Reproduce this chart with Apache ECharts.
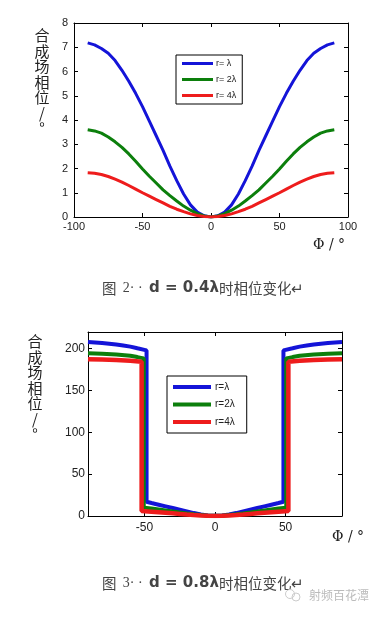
<!DOCTYPE html>
<html>
<head>
<meta charset="utf-8">
<script src="https://cdn.jsdelivr.net/npm/echarts@6/dist/echarts.min.js"></script>
<style>
html,body{margin:0;padding:0;background:#fff;}
#c{width:386px;height:617px;}
</style>
</head>
<body>
<div id="c"></div>
<script>
// ---------- Figure 2: d = 0.4λ ----------
var topX = [-90,-85,-80,-75,-70,-65,-60,-55,-50,-45,-40,-35,-30,-25,-20,-15,-10,-5,0,5,10,15,20,25,30,35,40,45,50,55,60,65,70,75,80,85,90];
var topBlue = [7.18,7.1,6.95,6.75,6.45,6.05,5.6,5.1,4.55,3.95,3.35,2.75,2.1,1.5,0.95,0.5,0.2,0.05,0,0.05,0.2,0.5,0.95,1.5,2.1,2.75,3.35,3.95,4.55,5.1,5.6,6.05,6.45,6.75,6.95,7.1,7.18];
var topGreen = [3.6,3.55,3.46,3.3,3.1,2.87,2.6,2.3,1.98,1.68,1.4,1.12,0.88,0.66,0.45,0.28,0.14,0.04,0,0.04,0.14,0.28,0.45,0.66,0.88,1.12,1.4,1.68,1.98,2.3,2.6,2.87,3.1,3.3,3.46,3.55,3.6];
var topRed = [1.82,1.8,1.75,1.67,1.56,1.44,1.3,1.15,1.0,0.86,0.72,0.58,0.44,0.32,0.22,0.13,0.06,0.02,0,0.02,0.06,0.13,0.22,0.32,0.44,0.58,0.72,0.86,1.0,1.15,1.3,1.44,1.56,1.67,1.75,1.8,1.82];
var topNames = ['r= λ','r= 2λ','r= 4λ'];

// ---------- Figure 3: d = 0.8λ ----------
var botBlueX = [-90,-85,-80,-75,-70,-65,-60,-55,-48.5,-48.5,-45,-40,-35,-30,-25,-20,-15,-10,-5,0,5,10,15,20,25,30,35,40,45,48.5,48.5,55,60,65,70,75,80,85,90];
var botBlue  = [208,207.5,206.8,206,205,203.8,202.5,200.5,198,17,15.5,13.5,11.5,9.5,7.5,5.5,3.5,1.8,0.6,0.3,0.6,1.8,3.5,5.5,7.5,9.5,11.5,13.5,15.5,17,198,200.5,202.5,203.8,205,206,206.8,207.5,208];
var botGreenX = [-90,-80,-70,-60,-55,-50.5,-50.5,-45,-40,-35,-30,-25,-20,-15,-10,-5,0,5,10,15,20,25,30,35,40,45,50.5,50.5,55,60,70,80,90];
var botGreen  = [194.5,194,193,191.5,190,188.5,10,9,7.8,6.6,5.4,4.2,3.1,2,1.1,0.4,0.2,0.4,1.1,2,3.1,4.2,5.4,6.6,7.8,9,10,188.5,190,191.5,193,194,194.5];
var botRedX = [-90,-80,-70,-60,-52,-52,-45,-40,-35,-30,-25,-20,-15,-10,-5,0,5,10,15,20,25,30,35,40,45,52,52,60,70,80,90];
var botRed  = [187.5,187,186.5,185.5,184.5,6,5.2,4.6,3.9,3.2,2.5,1.8,1.2,0.7,0.3,0.1,0.3,0.7,1.2,1.8,2.5,3.2,3.9,4.6,5.2,6,184.5,185.5,186.5,187,187.5];
var botNames = ['r=λ','r=2λ','r=4λ'];
var botXTicks = [-50,0,50];
var botYTicks = [0,50,100,150,200];

var colors = ['#1414d8','#0c7f0c','#ee1c1c'];
var yTitle = ['合','成','场','相','位','/','°'].join('\n');

function pairs(xs, ys){ return xs.map(function(x,i){ return [x, ys[i]]; }); }

var chart = echarts.init(document.getElementById('c'), null, {renderer:'canvas'});
var lab = {color:'#222', fontFamily:'Liberation Sans, Arial, sans-serif'};

function axisLineStyle(){ return {show:true, onZero:false, lineStyle:{color:'#000', width:1}}; }

var capRich = {
  a:{fontSize:14.5, fill:'#444', fontFamily:'Noto Sans CJK SC'},
  c:{fontSize:14, fill:'#444', fontFamily:'Liberation Serif', padding:[0,3,0,3]},
  b:{fontSize:15, fontWeight:'bold', fill:'#444', fontFamily:'DejaVu Sans'}
};

var option = {
  animation:false,
  backgroundColor:'#fff',
  grid:[
    {left:74, top:23, width:274, height:194, show:false},
    {left:88, top:332, width:254, height:184, show:false}
  ],
  xAxis:[
    {gridIndex:0, type:'value', min:-100, max:100, interval:50, position:'bottom',
     axisLine:axisLineStyle(), axisTick:{inside:true, length:4, lineStyle:{color:'#000'}},
     axisLabel:Object.assign({fontSize:11, margin:4}, lab), splitLine:{show:false}},
    {gridIndex:0, type:'value', min:-100, max:100, interval:50, position:'top',
     axisLine:axisLineStyle(), axisTick:{inside:true, length:4, lineStyle:{color:'#000'}},
     axisLabel:{show:false}, splitLine:{show:false}},
    {gridIndex:1, type:'value', min:-90, max:90, position:'bottom',
     axisLine:axisLineStyle(), axisTick:{inside:true, length:4, customValues:botXTicks, lineStyle:{color:'#000'}},
     axisLabel:Object.assign({fontSize:12, margin:6, customValues:botXTicks}, lab), splitLine:{show:false}},
    {gridIndex:1, type:'value', min:-90, max:90, position:'top',
     axisLine:axisLineStyle(), axisTick:{inside:true, length:4, customValues:botXTicks, lineStyle:{color:'#000'}},
     axisLabel:{show:false}, splitLine:{show:false}}
  ],
  yAxis:[
    {gridIndex:0, type:'value', min:0, max:8, interval:1, position:'left',
     axisLine:axisLineStyle(), axisTick:{inside:true, length:4, lineStyle:{color:'#000'}},
     axisLabel:Object.assign({fontSize:11, margin:6}, lab), splitLine:{show:false}},
    {gridIndex:0, type:'value', min:0, max:8, interval:1, position:'right',
     axisLine:axisLineStyle(), axisTick:{inside:true, length:4, lineStyle:{color:'#000'}},
     axisLabel:{show:false}, splitLine:{show:false}},
    {gridIndex:1, type:'value', min:0, max:220, position:'left',
     axisLine:axisLineStyle(), axisTick:{inside:true, length:4, customValues:botYTicks, lineStyle:{color:'#000'}},
     axisLabel:Object.assign({fontSize:12, margin:3, customValues:botYTicks}, lab), splitLine:{show:false}},
    {gridIndex:1, type:'value', min:0, max:220, position:'right',
     axisLine:axisLineStyle(), axisTick:{inside:true, length:4, customValues:botYTicks, lineStyle:{color:'#000'}},
     axisLabel:{show:false}, splitLine:{show:false}}
  ],
  legend:[
    {data:topNames, orient:'vertical', left:176, top:55, icon:'rect', itemWidth:31, itemHeight:3, itemGap:5,
     padding:[3,6,3,6], borderColor:'#000', borderWidth:1, backgroundColor:'#fff', selectedMode:false,
     textStyle:{fontSize:9, lineHeight:11, color:'#222', fontFamily:'Liberation Sans, Arial, sans-serif', padding:[0,0,0,-2]}},
    {data:botNames, orient:'vertical', left:167, top:376, icon:'rect', itemWidth:38, itemHeight:4, itemGap:5.5,
     padding:[5,12,5,6], borderColor:'#000', borderWidth:1, backgroundColor:'#fff', selectedMode:false,
     textStyle:{fontSize:10, lineHeight:12, color:'#222', fontFamily:'Liberation Sans, Arial, sans-serif', padding:[0,0,0,-1]}}
  ],
  series:[
    {name:topNames[0], type:'line', xAxisIndex:0, yAxisIndex:0, data:pairs(topX, topBlue), showSymbol:false, color:colors[0], lineStyle:{width:3, color:colors[0]}},
    {name:topNames[1], type:'line', xAxisIndex:0, yAxisIndex:0, data:pairs(topX, topGreen), showSymbol:false, color:colors[1], lineStyle:{width:3, color:colors[1]}},
    {name:topNames[2], type:'line', xAxisIndex:0, yAxisIndex:0, data:pairs(topX, topRed), showSymbol:false, color:colors[2], lineStyle:{width:3, color:colors[2]}},
    {name:botNames[0], type:'line', xAxisIndex:2, yAxisIndex:2, data:pairs(botBlueX, botBlue), showSymbol:false, color:colors[0], lineStyle:{width:4, color:colors[0]}},
    {name:botNames[1], type:'line', xAxisIndex:2, yAxisIndex:2, data:pairs(botGreenX, botGreen), showSymbol:false, color:colors[1], lineStyle:{width:4, color:colors[1]}},
    {name:botNames[2], type:'line', xAxisIndex:2, yAxisIndex:2, data:pairs(botRedX, botRed), showSymbol:false, color:colors[2], lineStyle:{width:4.5, color:colors[2]}}
  ],
  graphic:[
    {type:'text', x:42, y:28, style:{text:yTitle, fontSize:15, lineHeight:15.5, align:'center', verticalAlign:'top', fill:'#222', fontFamily:'Noto Sans CJK SC'}},
    {type:'text', x:35, y:334, style:{text:yTitle, fontSize:15, lineHeight:15.5, align:'center', verticalAlign:'top', fill:'#222', fontFamily:'Noto Sans CJK SC'}},
    {type:'text', x:313, y:238, style:{text:'Φ / °', fontSize:14, fill:'#222', fontFamily:'DejaVu Serif'}},
    {type:'text', x:332, y:530, style:{text:'Φ / °', fontSize:14, fill:'#222', fontFamily:'DejaVu Serif'}},
    {type:'text', x:102, y:288, style:{text:'{a|图 }{c|2· · }{b|d = 0.4λ}{a|时相位变化↵}', verticalAlign:'middle', rich:capRich}},
    {type:'text', x:102, y:583, style:{text:'{a|图 }{c|3· · }{b|d = 0.8λ}{a|时相位变化↵}', verticalAlign:'middle', rich:capRich}},
    {type:'circle', shape:{cx:290, cy:594, r:4.5}, style:{fill:'none', stroke:'#ccc', lineWidth:1}},
    {type:'circle', shape:{cx:296, cy:597, r:4}, style:{fill:'none', stroke:'#ccc', lineWidth:1}},
    {type:'text', x:309, y:595, style:{text:'射频百花潭', fontSize:12, fill:'#bbb', verticalAlign:'middle', fontFamily:'Noto Sans CJK SC'}}
  ]
};
chart.setOption(option);
</script>
</body>
</html>
